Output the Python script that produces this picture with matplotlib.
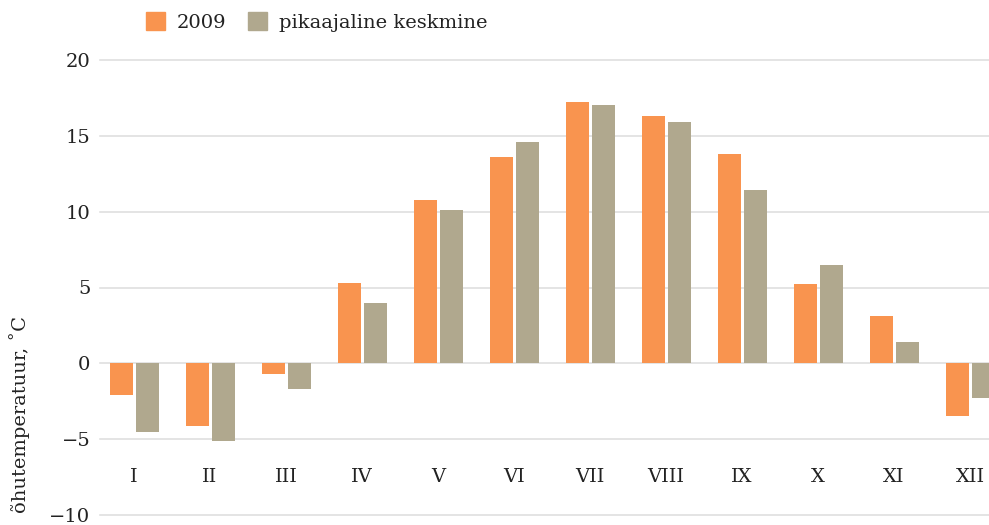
import numpy as np
import matplotlib
matplotlib.use('Agg')
import matplotlib.pyplot as plt
from matplotlib.patches import Patch

# andmed
kuud = ['I', 'II', 'III', 'IV', 'V', 'VI', 'VII', 'VIII', 'IX', 'X', 'XI', 'XII']
t2009 = [-2.1, -4.1, -0.7, 5.3, 10.8, 13.6, 17.2, 16.3, 13.8, 5.2, 3.1, -3.5]
keskmine = [-4.5, -5.1, -1.7, 4.0, 10.1, 14.6, 17.0, 15.9, 11.4, 6.5, 1.4, -2.3]
y_ticks = [-10, -5, 0, 5, 10, 15, 20]

c2009 = '#F9944F'
ckesk = '#B0A88E'

plt.rcParams['font.family'] = 'DejaVu Serif'

fig = plt.figure(figsize=(9.89, 5.25), dpi=100)
ax = fig.add_axes([100 / 989, 10 / 525, 889 / 989, 455 / 525])

x = np.arange(len(kuud))
w = 0.30
ax.bar(x - 0.165, t2009, width=w, color=c2009, zorder=3)
ax.bar(x + 0.175, keskmine, width=w, color=ckesk, zorder=3)

for t in y_ticks:
    ax.axhline(t, color='#dcdcdc', lw=1.1, zorder=1, clip_on=False)

ax.set_xlim(-0.447, 11.25)
ax.set_ylim(-10, 20)
ax.set_yticks(y_ticks)
ax.set_yticklabels([str(t).replace('-', '\u2212') for t in y_ticks], fontsize=14, color='#222222')
ax.tick_params(axis='y', length=0, pad=7)
ax.set_xticks([])
for s in ax.spines.values():
    s.set_visible(False)

for i, k in enumerate(kuud):
    ax.text(i, -7.5, k, ha='center', va='center', fontsize=14, color='#222222')

fig.text(20 / 989, 12 / 525, 'õhutemperatuur, ˚C', rotation=90, ha='center', va='bottom',
         fontsize=14, color='#222222')

handles = [Patch(color=c2009, label='2009'), Patch(color=ckesk, label='pikaajaline keskmine')]
fig.legend(handles=handles, loc='center left', bbox_to_anchor=(128 / 989, 1 - 22 / 525), ncol=2,
           frameon=False, fontsize=14, handlelength=1.0, handleheight=1.0, columnspacing=1.1,
           handletextpad=0.6, labelcolor='#222222')

fig.savefig('out.png', dpi=100)
